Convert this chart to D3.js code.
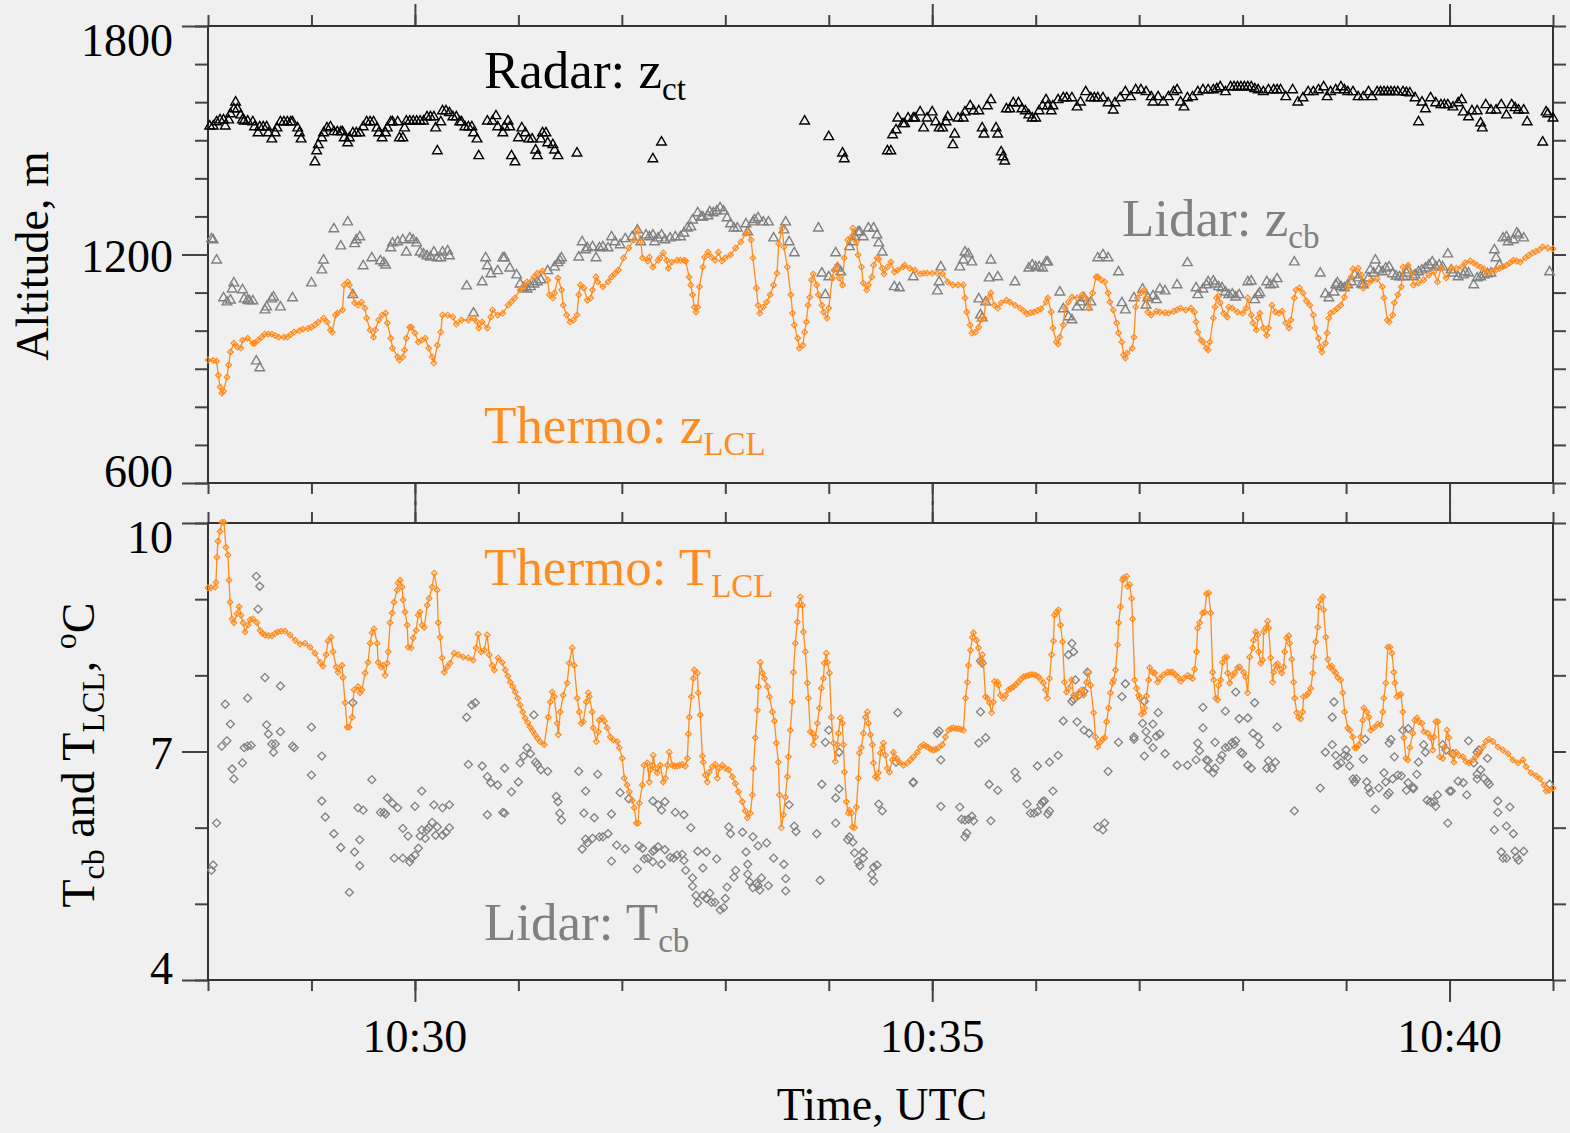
<!DOCTYPE html>
<html>
<head>
<meta charset="utf-8">
<script src="https://cdn.jsdelivr.net/npm/d3@7"></script>
<style>
  html, body { margin: 0; padding: 0; background: #f0f0f0; }
  svg { display: block; font-family: "Liberation Serif", "Times New Roman", serif; }
</style>
</head>
<body>
<div id="chart"></div>
<script>
// seconds after 10:28:00 UTC, value
const zLcl = [[0,923],[3,922],[5,920],[6,883],[7,852],[8,836],[9,841],[11,878],[12,910],[13,944],[15,967],[17,957],[19,954],[20,975],[23,980],[26,967],[27,967],[29,975],[31,983],[33,991],[35,991],[37,991],[39,987],[41,983],[44,983],[46,983],[48,990],[50,996],[53,1000],[55,1004],[58,1006],[60,1009],[62,1015],[64,1023],[67,1033],[69,1023],[71,1002],[72,996],[74,1041],[75,1046],[78,1054],[79,1120],[81,1128],[82,1120],[84,1094],[85,1073],[87,1067],[89,1075],[91,1059],[92,1033],[94,1002],[96,983],[97,1002],[99,1028],[101,1041],[103,1046],[104,1020],[106,980],[107,954],[110,931],[111,923],[113,931],[114,949],[115,980],[117,1009],[118,1009],[120,994],[122,970],[124,975],[126,980],[128,954],[130,931],[131,915],[133,962],[135,996],[136,1041],[139,1041],[142,1036],[144,1017],[147,1028],[151,1028],[154,1033],[156,1023],[157,1007],[159,1023],[162,1007],[164,1036],[165,1054],[168,1041],[171,1046],[174,1067],[176,1076],[178,1086],[181,1107],[183,1117],[185,1128],[189,1141],[191,1151],[194,1157],[197,1133],[198,1094],[200,1086],[201,1099],[203,1138],[205,1107],[206,1067],[208,1041],[210,1023],[212,1028],[214,1041],[215,1094],[216,1120],[218,1112],[220,1080],[222,1086],[223,1107],[225,1141],[226,1128],[229,1115],[232,1128],[234,1141],[236,1150],[238,1159],[241,1191],[244,1217],[247,1238],[249,1264],[251,1233],[252,1191],[255,1183],[256,1193],[258,1167],[261,1185],[262,1191],[264,1204],[266,1185],[267,1164],[269,1180],[272,1185],[274,1185],[276,1185],[277,1183],[279,1141],[280,1120],[281,1094],[282,1062],[283,1049],[284,1062],[285,1115],[287,1167],[288,1193],[290,1206],[292,1193],[294,1185],[296,1206],[298,1183],[300,1191],[303,1199],[306,1217],[309,1233],[312,1256],[313,1259],[315,1238],[316,1191],[318,1112],[319,1067],[320,1046],[322,1062],[324,1075],[326,1094],[328,1120],[330,1151],[331,1228],[333,1269],[334,1220],[336,1167],[338,1094],[339,1046],[340,1015],[342,980],[343,954],[345,962],[346,996],[347,1023],[348,1067],[349,1088],[350,1133],[351,1149],[353,1120],[354,1094],[356,1067],[357,1049],[359,1033],[360,1059],[362,1138],[363,1159],[365,1172],[366,1138],[368,1120],[369,1191],[371,1238],[373,1246],[374,1269],[376,1233],[377,1199],[379,1167],[380,1125],[382,1107],[383,1120],[385,1141],[386,1172],[388,1191],[389,1188],[391,1164],[392,1149],[394,1167],[396,1180],[398,1154],[400,1159],[403,1167],[404,1172],[407,1164],[410,1159],[413,1149],[415,1151],[417,1151],[420,1151],[423,1151],[426,1149],[429,1128],[432,1120],[435,1120],[438,1120],[439,1086],[440,1049],[442,1015],[443,994],[445,996],[447,1009],[448,1028],[450,1033],[451,1075],[453,1088],[454,1099],[456,1067],[458,1059],[460,1073],[463,1080],[465,1075],[468,1067],[471,1059],[473,1052],[475,1044],[477,1047],[479,1049],[481,1053],[483,1057],[486,1075],[487,1086],[489,1049],[490,1007],[492,970],[493,965],[494,983],[496,1015],[497,1059],[499,1075],[501,1088],[504,1086],[507,1094],[509,1086],[511,1059],[513,1099],[515,1141],[516,1141],[518,1133],[520,1128],[522,1099],[523,1075],[525,1054],[527,1020],[528,994],[530,970],[531,936],[532,928],[533,941],[536,954],[537,983],[538,1062],[539,1086],[541,1099],[543,1107],[544,1086],[545,1049],[547,1041],[550,1051],[552,1049],[555,1047],[557,1046],[560,1051],[562,1055],[564,1059],[567,1054],[570,1059],[572,1049],[573,1023],[574,996],[576,975],[577,970],[579,954],[580,949],[581,970],[583,1033],[584,1062],[585,1086],[586,1091],[587,1073],[589,1046],[591,1036],[592,1062],[594,1059],[597,1049],[600,1046],[602,1059],[603,1086],[605,1041],[606,1020],[608,1002],[609,1033],[610,1046],[612,1007],[614,988],[615,1007],[617,1067],[619,1049],[621,1046],[623,1051],[625,1020],[627,1007],[628,1028],[630,1086],[631,1107],[633,1112],[635,1099],[637,1078],[639,1067],[641,1041],[642,1007],[644,980],[645,957],[646,944],[648,967],[649,994],[650,1033],[651,1046],[653,1051],[655,1059],[657,1067],[659,1088],[661,1115],[663,1141],[664,1162],[667,1164],[669,1146],[670,1112],[673,1125],[675,1133],[678,1136],[681,1115],[682,1086],[684,1028],[685,1023],[687,1041],[688,1073],[690,1094],[692,1115],[693,1167],[696,1172],[698,1151],[699,1120],[702,1125],[705,1133],[708,1146],[711,1154],[713,1128],[715,1164],[718,1138],[721,1164],[724,1164],[727,1167],[729,1178],[732,1183],[734,1178],[736,1172],[738,1167],[740,1162],[742,1151],[745,1157],[747,1160],[749,1164],[751,1168],[753,1172],[755,1178],[757,1185],[759,1183],[761,1180],[764,1191],[766,1198],[768,1204],[770,1208],[772,1212],[774,1220],[777,1217],[780,1215]];

const tLcl = [[0,9.15],[1.7,9.15],[4.1,9.16],[4.6,9.22],[5.2,9.55],[5.8,9.76],[7.0,9.89],[8.1,10.01],[9.3,10.01],[10.4,9.68],[11.6,9.58],[12.2,9.25],[12.8,8.96],[13.9,8.74],[15.1,8.69],[16.8,8.81],[18.0,8.90],[19.1,8.79],[20.3,8.69],[21.5,8.57],[23.2,8.66],[24.4,8.73],[26.1,8.74],[28.4,8.69],[30.2,8.59],[31.7,8.55],[33.1,8.53],[35.1,8.52],[37.1,8.52],[38.9,8.55],[40.6,8.57],[42.6,8.58],[44.7,8.58],[47.6,8.53],[50.5,8.46],[53.4,8.41],[56.3,8.42],[59.2,8.37],[62.1,8.29],[65.0,8.17],[66.7,8.12],[68.5,8.27],[69.6,8.45],[71.4,8.50],[72.5,8.31],[74.3,8.11],[75.4,8.04],[77.7,8.13],[78.3,7.97],[79.5,7.64],[80.7,7.32],[81.8,7.32],[83.6,7.45],[84.7,7.81],[87.0,7.85],[88.2,7.77],[89.3,7.81],[91.1,8.03],[92.8,8.17],[94.0,8.42],[95.2,8.56],[96.3,8.61],[98.1,8.42],[98.7,8.17],[100.4,8.11],[101.6,8.13],[102.7,8.00],[103.9,8.16],[104.5,8.31],[105.6,8.69],[106.8,8.82],[107.9,8.96],[109.7,9.12],[110.2,9.21],[111.4,9.25],[112.6,9.16],[113.1,8.99],[114.3,8.83],[115.5,8.66],[116.1,8.37],[117.8,8.36],[119.0,8.49],[120.7,8.59],[121.9,8.79],[123.0,8.83],[124.2,8.66],[125.4,8.63],[127.1,8.92],[128.2,9.01],[130.0,9.16],[131.2,9.34],[132.9,9.12],[133.5,8.69],[134.6,8.50],[135.8,8.23],[137.0,8.04],[138.7,8.11],[140.4,8.16],[142.8,8.29],[145.1,8.27],[148.0,8.24],[150.9,8.23],[153.8,8.20],[155.5,8.36],[156.7,8.54],[158.4,8.31],[160.2,8.33],[161.9,8.53],[163.1,8.27],[164.8,8.13],[166.0,8.07],[168.3,8.23],[170.6,8.17],[172.4,8.07],[173.9,7.99],[175.3,7.91],[176.8,7.85],[178.2,7.78],[179.6,7.70],[181.0,7.61],[182.5,7.52],[183.9,7.44],[185.4,7.38],[186.8,7.32],[188.3,7.27],[189.7,7.22],[191.2,7.17],[192.6,7.13],[195.0,7.09],[197.3,7.45],[198.5,7.65],[199.6,7.78],[200.8,7.72],[202.5,7.37],[203.1,7.22],[204.3,7.52],[206.0,7.74],[208.3,7.90],[209.5,8.16],[211.2,8.36],[212.4,8.13],[214.1,7.70],[215.3,7.52],[216.5,7.37],[217.6,7.39],[219.4,7.65],[220.5,7.77],[221.1,7.72],[222.8,7.52],[223.4,7.31],[225.2,7.13],[226.3,7.26],[226.9,7.41],[228.6,7.44],[229.8,7.40],[231.5,7.31],[233.3,7.19],[235.0,7.15],[237.3,7.13],[238.5,7.05],[240.2,6.91],[241.4,6.65],[243.1,6.56],[244.3,6.47],[246.0,6.36],[247.2,6.26],[248.4,6.06],[249.5,6.06],[250.1,6.32],[251.9,6.56],[253.0,6.82],[254.8,6.85],[255.9,6.60],[256.5,6.76],[257.7,6.82],[258.2,6.95],[259.4,6.78],[260.6,6.72],[262.3,6.82],[264.0,6.60],[265.2,6.65],[266.4,6.82],[267.5,6.99],[269.3,6.82],[270.7,6.81],[272.2,6.81],[273.6,6.82],[275.1,6.83],[276.8,6.81],[278.0,6.91],[278.6,7.23],[279.1,7.45],[280.3,7.72],[281.5,7.96],[282.0,8.07],[283.8,8.03],[284.3,7.77],[285.5,7.48],[286.7,6.94],[287.2,6.86],[288.4,6.69],[289.6,6.60],[290.7,6.73],[292.5,6.80],[294.2,6.83],[295.4,6.65],[296.5,6.78],[298.3,6.82],[300.0,6.78],[301.8,6.76],[304.1,6.67],[305.8,6.58],[307.6,6.47],[309.9,6.34],[311.6,6.22],[312.8,6.13],[314.5,6.19],[315.7,6.43],[316.3,6.78],[317.4,7.18],[318.6,7.54],[319.2,7.85],[320.3,8.17],[321.5,8.03],[322.7,7.96],[324.4,7.85],[325.6,7.72],[327.3,7.52],[328.5,7.40],[329.6,7.11],[330.8,6.86],[331.4,6.43],[332.5,6.00],[333.7,6.17],[334.8,6.40],[336.0,6.67],[336.6,6.93],[337.7,7.28],[338.9,7.65],[339.5,8.04],[340.6,8.42],[341.8,8.70],[342.4,8.92],[343.5,9.03],[344.7,8.92],[345.3,8.57],[346.4,8.31],[347.6,7.90],[348.2,7.70],[349.3,7.26],[350.5,7.24],[351.1,7.09],[352.2,7.19],[353.4,7.37],[354.6,7.57],[355.7,7.83],[356.9,7.96],[357.5,8.16],[358.6,8.29],[359.2,8.17],[360.4,8.03],[361.5,7.45],[362.7,7.11],[363.8,6.87],[365.0,7.09],[365.6,7.24],[366.7,7.44],[367.9,7.37],[368.5,7.09],[369.1,6.73],[370.2,6.34],[371.4,6.19],[372.0,6.23],[373.1,6.19],[373.7,6.01],[374.9,6.00],[376.0,6.27],[377.2,6.65],[377.8,6.98],[378.9,7.05],[380.1,7.24],[381.3,7.45],[382.4,7.52],[383.0,7.37],[384.2,7.22],[385.3,7.09],[385.9,6.85],[387.1,6.67],[388.2,6.65],[388.8,6.72],[390.0,6.98],[391.1,7.05],[391.7,7.11],[392.9,6.95],[394.0,6.78],[395.2,6.73],[396.9,6.89],[397.5,6.99],[399.3,6.91],[401.0,6.86],[403.3,6.82],[405.6,6.85],[407.4,6.89],[409.1,6.93],[411.4,6.99],[413.2,7.06],[414.9,7.09],[416.4,7.07],[417.8,7.05],[419.2,7.03],[420.7,7.02],[422.1,7.03],[423.6,7.05],[425.9,7.09],[427.7,7.19],[429.4,7.28],[430.9,7.30],[432.3,7.31],[433.8,7.30],[435.2,7.30],[436.7,7.29],[438.1,7.28],[439.3,7.70],[440.4,7.91],[441.0,8.13],[442.2,8.33],[443.3,8.50],[443.9,8.56],[445.7,8.46],[446.8,8.36],[448.0,8.17],[449.1,8.27],[449.7,8.16],[450.9,7.72],[452.0,7.70],[453.2,7.64],[454.4,7.51],[455.5,7.65],[456.1,7.92],[457.9,7.91],[458.4,7.87],[459.6,7.74],[461.3,7.70],[462.5,7.74],[464.2,7.81],[465.7,7.83],[467.1,7.85],[468.5,7.88],[470.0,7.91],[471.4,7.95],[472.9,7.98],[474.3,7.99],[475.8,8.00],[477.2,8.01],[478.7,8.01],[480.1,8.00],[481.6,7.98],[483.0,7.94],[484.5,7.90],[485.7,7.81],[486.8,7.70],[488.0,7.96],[489.2,8.27],[490.3,8.45],[490.9,8.79],[492.1,8.83],[493.2,8.86],[494.4,8.66],[495.6,8.44],[496.7,7.91],[497.9,7.78],[499.1,7.83],[500.8,7.94],[502.0,7.74],[503.7,7.70],[504.9,7.77],[506.6,7.81],[507.8,7.74],[509.5,7.91],[510.7,8.04],[511.8,7.87],[513.6,7.51],[514.7,7.19],[515.9,7.06],[517.4,7.12],[518.8,7.16],[520.0,7.18],[521.1,7.39],[522.3,7.57],[523.4,7.77],[524.6,7.90],[525.2,7.94],[526.3,8.07],[527.5,8.40],[528.1,8.69],[529.2,8.90],[530.4,9.25],[531.0,9.28],[532.7,9.30],[533.3,9.17],[534.5,9.19],[535.6,9.01],[536.2,8.74],[537.4,7.94],[538.5,7.83],[539.7,7.74],[540.3,7.70],[541.4,7.49],[542.6,7.51],[543.2,7.57],[544.3,7.73],[545.5,7.94],[546.1,8.10],[547.8,8.04],[549.0,8.03],[550.7,7.91],[551.9,7.96],[554.2,8.01],[556.5,8.04],[558.0,8.04],[559.4,8.04],[560.9,8.01],[562.3,7.98],[564.1,7.92],[565.8,7.96],[568.1,8.00],[569.5,7.98],[571.0,7.96],[572.2,8.08],[573.3,8.31],[573.9,8.62],[575.1,8.69],[576.8,8.82],[578.0,8.83],[579.1,9.07],[580.3,9.08],[581.5,8.82],[582.6,8.04],[583.2,7.94],[584.4,7.70],[585.5,7.68],[586.1,7.87],[587.3,7.94],[588.4,8.17],[589.6,8.23],[590.8,8.24],[591.3,8.03],[592.5,7.90],[594.3,8.00],[595.4,8.03],[597.1,8.10],[598.3,8.11],[600.6,8.04],[601.8,7.98],[602.9,7.77],[604.1,8.24],[605.8,8.36],[606.4,8.46],[607.6,8.57],[608.7,8.53],[609.3,8.31],[610.5,8.16],[611.6,8.20],[612.2,8.57],[613.4,8.62],[614.5,8.71],[615.1,8.62],[616.3,8.23],[617.4,7.91],[618.0,8.04],[619.2,8.13],[620.3,8.15],[621.5,8.08],[622.7,8.03],[623.8,8.11],[624.4,8.31],[625.6,8.49],[626.7,8.52],[627.3,8.42],[628.5,8.21],[629.6,7.91],[630.2,7.70],[631.4,7.51],[632.5,7.45],[633.7,7.43],[634.8,7.52],[635.4,7.72],[637.2,7.74],[638.3,7.77],[639.5,7.83],[640.7,8.03],[641.2,8.24],[642.4,8.44],[643.6,8.63],[644.1,8.90],[645.3,8.99],[646.5,9.03],[647.0,8.86],[648.2,8.50],[649.4,8.21],[650.5,8.11],[651.7,8.12],[652.9,8.06],[654.0,8.03],[655.2,7.97],[656.9,7.94],[658.1,7.77],[659.2,7.52],[661.0,7.31],[662.1,7.28],[663.9,7.19],[665.0,7.05],[666.2,7.05],[667.4,7.09],[668.5,7.19],[669.7,7.41],[670.3,7.57],[672.0,7.52],[673.2,7.45],[674.3,7.28],[676.1,7.31],[678.4,7.36],[680.2,7.35],[681.3,7.52],[681.9,7.70],[683.1,7.90],[684.2,8.37],[685.4,8.37],[686.6,8.29],[687.7,8.04],[688.3,7.90],[689.5,7.72],[690.6,7.74],[691.8,7.75],[692.9,7.52],[693.5,7.18],[694.7,6.91],[695.8,6.89],[697.0,7.05],[698.7,7.24],[699.9,7.41],[701.1,7.44],[702.2,7.39],[704.0,7.37],[705.1,7.26],[707.4,7.24],[709.2,7.18],[710.3,7.02],[710.9,7.19],[712.1,7.39],[713.2,7.39],[714.4,6.93],[716.1,6.91],[717.3,7.06],[718.5,7.28],[719.6,7.18],[720.8,6.97],[722.5,6.86],[723.7,6.99],[725.4,6.95],[727.8,6.93],[729.5,6.87],[731.3,6.85],[733.6,6.89],[735.3,6.93],[737.1,6.98],[739.4,7.06],[741.1,7.13],[742.9,7.16],[745.2,7.13],[748.1,7.06],[751.0,7.02],[753.9,6.97],[756.8,6.89],[759.7,6.85],[762.6,6.89],[764.4,6.80],[767.3,6.72],[770.2,6.68],[772.5,6.64],[774.8,6.56],[776.0,6.48],[777.8,6.49],[780.0,6.52]];

const radarZ = [[1,1537],[3,1537],[5,1548],[7,1553],[9,1553],[10,1537],[12,1553],[13,1569],[15,1582],[16,1600],[17,1582],[19,1566],[20,1553],[21,1550],[23,1550],[26,1548],[27,1535],[29,1519],[30,1535],[32,1535],[34,1535],[35,1519],[37,1503],[39,1519],[40,1532],[42,1548],[44,1548],[46,1548],[48,1548],[49,1548],[52,1532],[53,1519],[54,1503],[62,1443],[63,1472],[64,1488],[66,1506],[67,1519],[69,1532],[71,1535],[73,1522],[75,1522],[77,1522],[78,1522],[79,1506],[81,1493],[82,1506],[84,1519],[86,1519],[88,1519],[90,1535],[92,1548],[94,1548],[96,1548],[98,1532],[99,1519],[101,1506],[103,1519],[104,1532],[106,1548],[107,1548],[110,1548],[111,1506],[113,1506],[114,1532],[115,1550],[117,1550],[119,1550],[121,1550],[123,1550],[125,1550],[127,1561],[129,1561],[131,1561],[132,1532],[133,1472],[135,1548],[136,1577],[138,1577],[140,1572],[142,1561],[144,1561],[146,1548],[147,1548],[149,1535],[151,1535],[153,1535],[154,1519],[156,1503],[157,1459],[162,1550],[165,1550],[167,1564],[168,1535],[171,1519],[172,1535],[174,1550],[175,1535],[176,1459],[178,1443],[180,1506],[182,1532],[184,1519],[186,1503],[188,1503],[190,1474],[191,1459],[193,1503],[194,1519],[196,1519],[197,1493],[200,1488],[201,1474],[203,1459],[214,1466],[258,1451],[263,1495],[346,1550],[360,1509],[368,1466],[369,1451],[394,1472],[396,1472],[397,1514],[399,1527],[400,1558],[403,1543],[404,1543],[406,1558],[409,1558],[410,1558],[413,1574],[415,1532],[417,1558],[420,1574],[422,1548],[424,1532],[426,1532],[428,1548],[429,1561],[432,1488],[433,1516],[435,1558],[438,1558],[439,1574],[442,1590],[444,1577],[447,1577],[449,1532],[450,1516],[452,1590],[454,1606],[457,1532],[458,1516],[460,1469],[461,1456],[462,1445],[463,1582],[465,1582],[467,1598],[470,1598],[472,1582],[474,1577],[476,1566],[478,1558],[480,1558],[482,1577],[484,1590],[486,1606],[487,1590],[489,1577],[490,1590],[493,1606],[496,1611],[498,1611],[501,1611],[504,1587],[506,1600],[509,1627],[512,1611],[514,1611],[516,1611],[519,1611],[522,1598],[525,1579],[526,1598],[529,1611],[532,1627],[535,1614],[538,1632],[541,1632],[544,1627],[547,1614],[548,1600],[551,1614],[554,1600],[557,1614],[560,1627],[562,1632],[564,1600],[566,1587],[568,1611],[571,1614],[574,1627],[577,1632],[580,1632],[583,1632],[585,1635],[587,1640],[590,1627],[593,1640],[595,1640],[597,1640],[599,1640],[601,1640],[603,1640],[605,1640],[607,1635],[609,1632],[612,1627],[615,1632],[618,1632],[620,1632],[622,1632],[625,1614],[629,1632],[632,1600],[635,1611],[638,1627],[641,1627],[644,1632],[647,1640],[649,1614],[651,1627],[654,1632],[657,1640],[659,1632],[661,1627],[664,1627],[667,1614],[670,1614],[673,1627],[675,1614],[678,1627],[680,1627],[682,1627],[684,1627],[686,1627],[688,1627],[690,1627],[693,1627],[695,1625],[697,1624],[700,1611],[702,1548],[704,1600],[706,1582],[709,1611],[712,1598],[715,1593],[717,1593],[719,1593],[722,1587],[725,1598],[727,1606],[728,1574],[731,1561],[733,1577],[736,1577],[738,1545],[739,1532],[741,1593],[744,1579],[747,1579],[750,1593],[753,1566],[756,1593],[758,1585],[760,1579],[763,1579],[765,1548],[774,1495],[776,1574],[777,1569],[780,1558]];

const lidarZ = [[2,1241],[3,1238],[5,1185],[9,1086],[11,1075],[13,1080],[14,1109],[15,1125],[20,1107],[21,1083],[23,1080],[24,1078],[26,1078],[28,920],[30,902],[33,1054],[34,1062],[37,1083],[38,1088],[42,1062],[49,1086],[60,1125],[66,1159],[67,1185],[73,1267],[77,1222],[81,1285],[84,1094],[85,1228],[86,1238],[88,1246],[90,1170],[95,1191],[100,1183],[102,1178],[103,1172],[106,1217],[107,1230],[110,1233],[113,1238],[115,1206],[117,1243],[119,1238],[121,1230],[123,1206],[125,1201],[127,1196],[129,1193],[131,1206],[133,1191],[135,1191],[136,1206],[139,1209],[140,1196],[150,1117],[154,1046],[159,1128],[161,1191],[162,1170],[164,1149],[168,1157],[171,1191],[172,1191],[175,1164],[179,1146],[181,1122],[183,1112],[185,1109],[187,1115],[189,1122],[191,1128],[193,1133],[197,1157],[201,1167],[203,1178],[204,1185],[205,1191],[215,1193],[217,1233],[219,1212],[220,1217],[223,1220],[225,1191],[227,1217],[229,1220],[232,1217],[234,1246],[236,1233],[239,1225],[242,1241],[246,1246],[249,1264],[251,1233],[254,1251],[256,1246],[258,1251],[259,1233],[261,1243],[263,1251],[265,1238],[268,1243],[271,1246],[274,1246],[276,1256],[278,1269],[280,1272],[281,1290],[284,1309],[286,1298],[287,1298],[290,1301],[291,1312],[293,1309],[295,1314],[297,1322],[299,1314],[301,1296],[303,1280],[305,1269],[307,1269],[312,1280],[313,1259],[316,1285],[317,1291],[319,1296],[322,1285],[325,1285],[328,1243],[334,1264],[335,1285],[337,1233],[340,1204],[354,1269],[356,1151],[358,1094],[360,1141],[364,1204],[365,1164],[367,1154],[372,1220],[374,1233],[375,1246],[377,1259],[378,1259],[380,1246],[383,1269],[386,1269],[388,1251],[389,1230],[391,1206],[398,1115],[401,1112],[409,1141],[423,1104],[424,1128],[425,1167],[436,1167],[438,1185],[439,1206],[441,1201],[443,1180],[447,1083],[448,1041],[449,1033],[451,1075],[453,1138],[454,1185],[458,1141],[468,1128],[476,1164],[478,1172],[480,1167],[482,1167],[484,1164],[486,1180],[487,1180],[494,1101],[496,1057],[499,1036],[501,1028],[504,1062],[506,1075],[508,1086],[510,1062],[512,1075],[516,1191],[519,1199],[522,1191],[528,1154],[530,1073],[532,1054],[537,1086],[542,1109],[544,1067],[545,1086],[548,1091],[550,1081],[552,1109],[555,1104],[562,1120],[568,1178],[573,1112],[574,1094],[577,1109],[579,1120],[580,1128],[583,1130],[584,1122],[586,1115],[588,1112],[590,1101],[592,1094],[594,1096],[596,1088],[598,1094],[603,1128],[605,1130],[607,1081],[609,1094],[610,1099],[614,1128],[616,1120],[618,1122],[620,1136],[630,1180],[645,1151],[648,1096],[650,1086],[653,1101],[654,1120],[655,1125],[657,1115],[659,1112],[661,1120],[663,1128],[665,1146],[667,1138],[669,1122],[670,1120],[673,1138],[674,1159],[676,1151],[677,1185],[679,1159],[681,1154],[683,1164],[685,1167],[687,1149],[689,1143],[691,1141],[693,1141],[695,1151],[696,1159],[699,1141],[700,1146],[702,1154],[704,1159],[706,1164],[708,1172],[710,1180],[712,1167],[714,1172],[716,1167],[719,1201],[721,1159],[722,1151],[725,1141],[728,1146],[729,1154],[731,1151],[734,1120],[736,1138],[738,1141],[740,1146],[742,1149],[744,1151],[746,1212],[747,1191],[749,1172],[751,1243],[753,1246],[754,1233],[757,1238],[759,1256],[760,1251],[763,1243],[778,1154]];

const lidarT = [[2,5.44],[3,5.51],[5,6.06],[8,7.07],[10,7.62],[11,7.14],[13,7.36],[14,6.77],[15,6.64],[20,6.85],[21,7.05],[23,7.07],[25,7.08],[23,7.70],[28,9.30],[29,8.87],[30,9.17],[33,7.97],[34,7.35],[35,7.23],[37,7.10],[38,6.99],[39,7.10],[42,7.86],[42,7.26],[49,7.07],[50,7.05],[60,7.32],[60,6.69],[66,6.94],[66,6.35],[68,6.14],[73,5.92],[77,5.74],[82,5.15],[84,7.64],[85,5.68],[87,6.26],[90,6.23],[88,5.50],[88,5.84],[95,6.63],[100,6.20],[102,6.20],[103,6.18],[104,6.39],[107,6.32],[110,6.26],[108,5.60],[113,5.60],[113,5.99],[116,5.89],[117,5.55],[118,5.60],[120,5.64],[120,6.28],[122,5.73],[123,5.89],[124,5.97],[124,6.48],[126,5.86],[127,5.97],[128,6.00],[130,6.07],[131,6.30],[132,5.90],[133,6.01],[136,6.26],[136,5.90],[138,5.94],[140,6.00],[140,6.30],[150,7.45],[151,6.83],[153,7.61],[155,7.64],[159,6.81],[162,6.17],[162,6.67],[164,6.59],[168,6.56],[171,6.20],[172,6.19],[172,6.78],[176,6.47],[180,6.60],[181,6.85],[183,6.94],[185,7.05],[187,6.97],[189,7.48],[190,6.86],[191,6.83],[193,6.76],[197,6.74],[202,6.41],[203,6.34],[204,6.19],[205,6.10],[215,6.74],[218,6.19],[219,6.48],[217,5.72],[219,5.85],[220,5.80],[223,5.86],[224,6.13],[226,6.70],[227,5.88],[229,5.88],[232,5.92],[234,6.18],[234,5.56],[237,5.77],[239,6.46],[242,5.72],[244,6.38],[249,5.46],[250,5.76],[252,5.73],[253,5.59],[255,5.60],[258,5.55],[258,5.69],[258,6.35],[261,6.30],[263,6.23],[265,6.34],[259,5.71],[261,5.75],[263,5.52],[265,5.71],[268,5.61],[270,5.60],[272,5.64],[275,5.65],[276,5.57],[271,6.20],[276,6.17],[277,5.44],[280,6.00],[281,5.34],[281,5.23],[283,5.11],[284,5.01],[284,5.69],[287,5.47],[289,5.68],[287,5.11],[289,5.07],[291,5.14],[292,5.02],[294,5.02],[295,5.59],[297,4.92],[299,4.95],[300,5.07],[301,5.22],[302,6.01],[303,5.92],[305,5.35],[306,5.44],[310,5.94],[312,5.68],[313,5.52],[313,5.39],[314,5.29],[316,5.88],[316,5.21],[318,5.27],[319,5.24],[320,5.18],[321,5.34],[319,5.76],[324,5.80],[325,5.24],[328,5.60],[334,5.52],[335,5.33],[335,5.17],[337,6.30],[340,6.02],[341,5.95],[353,5.92],[355,5.31],[356,6.57],[358,7.12],[360,7.28],[364,6.39],[366,6.51],[364,6.06],[366,6.99],[371,5.84],[372,5.88],[374,5.81],[375,5.67],[377,5.55],[378,5.50],[380,5.68],[380,5.60],[385,5.39],[386,5.30],[386,5.48],[388,5.51],[389,6.31],[391,6.22],[400,7.51],[399,6.86],[409,6.60],[409,6.59],[423,7.24],[424,7.27],[425,6.89],[425,6.28],[436,6.27],[437,6.11],[439,6.10],[441,6.11],[443,6.15],[444,6.09],[439,5.88],[440,5.93],[447,7.11],[451,7.18],[448,7.52],[448,8.19],[449,8.16],[453,6.57],[458,6.49],[454,6.09],[468,6.73],[469,6.65],[475,6.31],[477,6.19],[479,6.19],[481,6.21],[483,6.30],[484,6.34],[485,6.35],[487,6.18],[488,6.22],[481,6.81],[488,6.86],[493,6.95],[490,6.48],[496,7.40],[499,8.27],[501,8.42],[502,8.31],[504,7.39],[503,7.94],[508,7.28],[510,8.04],[511,7.24],[501,7.66],[502,7.69],[505,7.74],[508,7.79],[516,6.01],[519,5.97],[520,6.06],[522,6.74],[528,7.12],[530,7.72],[532,7.89],[537,7.16],[537,7.19],[543,6.94],[543,7.66],[542,7.37],[544,7.26],[545,7.15],[548,7.05],[548,7.36],[550,7.20],[551,7.51],[552,7.23],[555,6.97],[562,6.82],[568,6.82],[573,6.89],[574,7.11],[575,7.01],[577,7.31],[577,7.58],[579,6.89],[580,6.88],[580,6.78],[583,6.72],[584,6.78],[584,7.12],[590,7.53],[587,6.89],[588,6.95],[590,7.05],[592,7.06],[594,7.12],[595,7.09],[596,7.14],[596,7.78],[598,7.43],[599,6.99],[600,6.97],[603,6.82],[605,6.78],[603,7.44],[606,7.24],[609,7.19],[607,7.64],[610,7.09],[614,6.78],[615,6.88],[617,6.78],[619,6.86],[620,7.32],[630,6.22],[645,6.52],[648,6.99],[652,7.45],[653,7.65],[652,7.09],[654,6.95],[655,6.82],[657,6.85],[659,6.95],[660,7.02],[661,6.93],[662,6.81],[664,6.64],[665,6.60],[666,6.64],[670,6.90],[671,7.16],[672,6.60],[673,6.52],[674,6.46],[677,6.24],[679,6.52],[682,6.72],[683,6.60],[684,6.43],[685,6.46],[685,7.11],[686,7.16],[688,6.93],[687,6.64],[690,6.69],[692,6.68],[693,7.28],[695,6.49],[696,6.59],[699,6.53],[699,6.51],[696,7.30],[701,6.70],[702,6.86],[705,7.09],[706,6.99],[707,6.36],[709,6.34],[711,6.34],[713,6.43],[712,6.28],[716,7.09],[718,7.02],[719,6.06],[720,6.48],[721,6.48],[722,6.97],[725,6.61],[728,6.59],[730,6.43],[731,7.14],[734,6.85],[736,6.70],[736,6.64],[738,6.76],[740,6.65],[742,6.60],[743,6.57],[736,6.99],[737,7.02],[742,6.91],[746,5.97],[748,6.20],[748,6.35],[750,5.68],[751,5.60],[753,5.60],[753,6.02],[755,6.27],[757,5.92],[758,5.69],[759,5.61],[760,5.57],[763,5.69],[778,6.57]];

const altMajor = [600, 1200, 1800];
const tempMajor = [4, 7, 10];
const timeLabels = ["10:30", "10:35", "10:40"];

const W = 1570, H = 1133;
const left = 208, right = 1553;
const top1 = 26, bot1 = 483, top2 = 523, bot2 = 980;
const orange = "#ff8c1e", gray = "#808080", ink = "#333";

const start = Date.UTC(2016, 0, 1, 10, 28, 0);
const at = s => new Date(start + s * 1000);

const x = d3.scaleUtc().domain([at(0), at(780)]).range([left, right]);
const yAlt = d3.scaleLinear().domain([600, 1800]).range([bot1, top1]);
const yTemp = d3.scaleLinear().domain([4, 10]).range([bot2, top2]);

const svg = d3.select("#chart").append("svg")
  .attr("width", W).attr("height", H);
svg.append("rect").attr("width", W).attr("height", H).attr("fill", "#f0f0f0");

const minuteTicks = x.ticks(d3.utcMinute.every(1));
const fiveTicks = x.ticks(d3.utcMinute.every(5));

// draw ticks only, frame drawn as rects
function ticks(axis, values, size, transform) {
  svg.append("g")
    .attr("transform", transform)
    .call(axis.tickValues(values).tickSize(size).tickFormat(""))
    .call(g => g.select(".domain").remove())
    .call(g => g.selectAll("line").attr("stroke", "#444").attr("stroke-width", 2));
}

[[top1, bot1, yAlt, d3.range(600, 1801, 100)], [top2, bot2, yTemp, d3.range(4, 10.01, 1)]]
  .forEach(([t, b, y, minorY]) => {
    ticks(d3.axisTop(x), minuteTicks, 11, `translate(0,${t})`);
    ticks(d3.axisTop(x), fiveTicks, 22, `translate(0,${t})`);
    ticks(d3.axisBottom(x), minuteTicks, 11, `translate(0,${b})`);
    ticks(d3.axisBottom(x), fiveTicks, 22, `translate(0,${b})`);
    ticks(d3.axisLeft(y), minorY, 13, `translate(${left},0)`);
    ticks(d3.axisRight(y), minorY, 13, `translate(${right},0)`);
    svg.append("rect")
      .attr("x", left).attr("y", t)
      .attr("width", right - left).attr("height", b - t)
      .attr("fill", "none").attr("stroke", ink).attr("stroke-width", 2);
  });
ticks(d3.axisLeft(yAlt), altMajor, 26, `translate(${left},0)`);
ticks(d3.axisLeft(yTemp), tempMajor, 26, `translate(${left},0)`);

// y tick labels, kept inside the panel height at the ends
function yLabels(values, y, lo, hi) {
  svg.append("g").selectAll("text").data(values).join("text")
    .attr("x", 173)
    .attr("y", d => y(d) + (d === hi ? 30 : d === lo ? 4 : 17))
    .attr("text-anchor", "end")
    .attr("font-size", 46)
    .text(d => d);
}
yLabels(altMajor, yAlt, 600, 1800);
yLabels(tempMajor, yTemp, 4, 10);

svg.append("g").selectAll("text").data(fiveTicks).join("text")
  .attr("x", d => x(d))
  .attr("y", 1052)
  .attr("text-anchor", "middle")
  .attr("font-size", 46)
  .text((d, i) => timeLabels[i]);

// axis titles
svg.append("text")
  .attr("transform", "translate(48,256) rotate(-90)")
  .attr("text-anchor", "middle").attr("font-size", 46)
  .text("Altitude, m");

const tTitle = svg.append("text")
  .attr("transform", "translate(94,755) rotate(-90)")
  .attr("text-anchor", "middle").attr("font-size", 46);
tTitle.append("tspan").text("T");
tTitle.append("tspan").attr("font-size", 32).attr("dy", 10).text("cb");
tTitle.append("tspan").attr("dy", -10).text(" and T");
tTitle.append("tspan").attr("font-size", 32).attr("dy", 10).text("LCL");
tTitle.append("tspan").attr("dy", -10).text(", ");
tTitle.append("tspan").attr("font-size", 32).attr("dy", -18).text("o");
tTitle.append("tspan").attr("dy", 18).text("C");

svg.append("text")
  .attr("x", 882).attr("y", 1120)
  .attr("text-anchor", "middle").attr("font-size", 46)
  .text("Time, UTC");

// series labels
function label(px, py, main, sub, color) {
  const t = svg.append("text").attr("x", px).attr("y", py)
    .attr("fill", color).attr("font-size", 53);
  t.append("tspan").text(main);
  t.append("tspan").attr("font-size", 33).attr("dy", 12).text(sub);
}
label(484, 88, "Radar: z", "ct", "#000");
label(1122, 236, "Lidar: z", "cb", gray);
label(484, 443, "Thermo: z", "LCL", orange);
label(484, 585, "Thermo: T", "LCL", orange);
label(484, 940, "Lidar: T", "cb", gray);

// markers
const tri = d3.symbol().type(d3.symbolTriangle).size(40)();
const dia = s => d3.symbol().type(d3.symbolSquare).size(s)();

function scatter(data, y, path, color, rot, sw) {
  svg.append("g").selectAll("path").data(data).join("path")
    .attr("d", path)
    .attr("transform", d => `translate(${x(at(d[0]))},${y(d[1])}) rotate(${rot})`)
    .attr("fill", "none").attr("stroke", color).attr("stroke-width", sw);
}

scatter(lidarZ, yAlt, tri, gray, 0, 1.4);
scatter(radarZ, yAlt, tri, "#000", 0, 1.4);
scatter(lidarT, yTemp, dia(32), gray, 45, 1.3);

function thermo(data, y) {
  svg.append("path")
    .datum(data)
    .attr("d", d3.line().x(d => x(at(d[0]))).y(d => y(d[1])))
    .attr("fill", "none").attr("stroke", orange).attr("stroke-width", 1.3);
  scatter(data, y, dia(16), orange, 45, 1.2);
}
thermo(zLcl, yAlt);
thermo(tLcl, yTemp);
</script>
</body>
</html>
